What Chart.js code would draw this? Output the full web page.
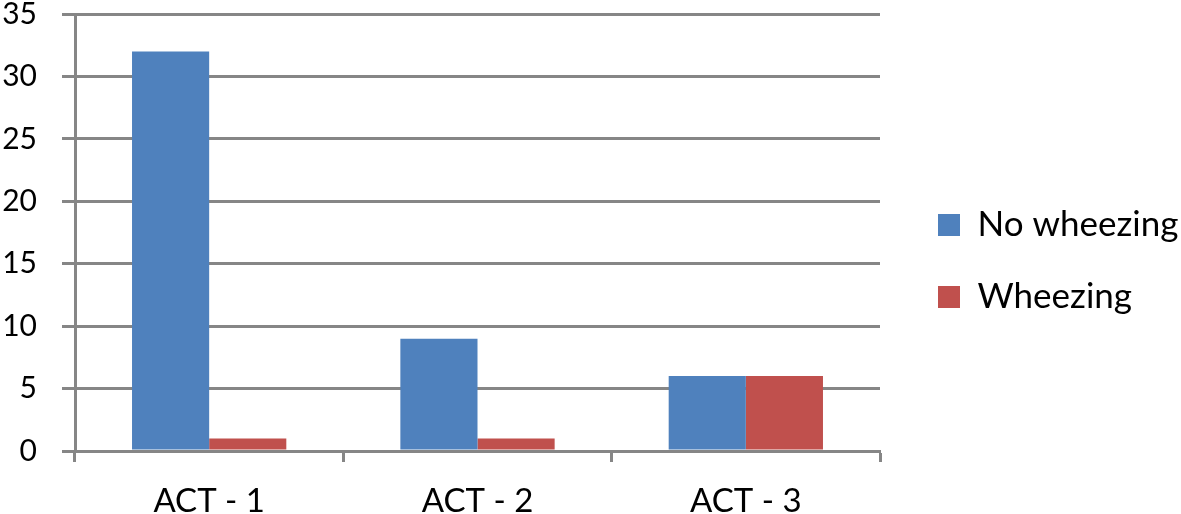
<!DOCTYPE html>
<html>
<head>
<meta charset="utf-8">
<script src="https://cdn.jsdelivr.net/npm/chart.js@4.4.1/dist/chart.umd.min.js"></script>
<style>
  html, body { margin: 0; padding: 0; background: #fff; }
  #wrap { width: 1181px; height: 514px; position: relative; }
</style>
</head>
<body>
<div id="wrap"><canvas id="Chart"></canvas></div>
<script>
const categories = ['ACT - 1', 'ACT - 2', 'ACT - 3'];
const seriesNames = ['No wheezing', 'Wheezing'];
const noWheezing = [32, 9, 6];
const wheezing = [1, 1, 6];
const yTicks = [0, 5, 10, 15, 20, 25, 30, 35];

const gridGray = '#868686';

function crearChart() {
  const ctx = document.getElementById('Chart');
  const chart = new Chart(ctx, {
    type: 'bar',
    data: {
      labels: categories,
      datasets: [{
        label: seriesNames[0],
        data: noWheezing,
        backgroundColor: '#4F81BD',
        borderWidth: 0,
        barPercentage: 1,
        categoryPercentage: 0.575
      }, {
        label: seriesNames[1],
        data: wheezing,
        backgroundColor: '#C0504D',
        borderWidth: 0,
        barPercentage: 1,
        categoryPercentage: 0.575
      }]
    },
    options: {
      responsive: true,
      maintainAspectRatio: false,
      animation: false,
      layout: {
        padding: { top: 14, right: 0, left: 0, bottom: 0 }
      },
      scales: {
        x: {
          grid: {
            display: true,
            drawOnChartArea: false,
            drawTicks: true,
            tickLength: 11,
            tickWidth: 3,
            color: gridGray,
            offset: true
          },
          border: { display: true, color: gridGray, width: 3 },
          ticks: {
            color: '#000',
            font: { family: 'Lato', size: 33 },
            padding: 20
          },
          afterFit: function(axis) { axis.height = 63; }
        },
        y: {
          min: 0,
          max: 35,
          afterBuildTicks: function(axis) {
            axis.ticks = yTicks.map(v => ({ value: v }));
          },
          grid: {
            color: gridGray,
            lineWidth: 3,
            tickLength: 13,
            drawTicks: true
          },
          border: { display: true, color: gridGray, width: 3 },
          ticks: {
            color: '#000',
            font: { family: 'Lato', size: 30 },
            padding: 25
          },
          afterFit: function(axis) {
            axis.width = 75;
            axis.paddingTop = 0;
            axis.paddingBottom = 0;
          }
        }
      },
      plugins: {
        legend: {
          position: 'right',
          align: 'center',
          labels: {
            color: '#000',
            font: { family: 'Lato', size: 35 },
            boxWidth: 22,
            boxHeight: 22,
            padding: 37
          }
        },
        tooltip: { enabled: false }
      }
    }
  });

  // legend takes the space right of x=880, drawn a bit further in
  const lg = chart.legend;
  const origFit = lg.fit.bind(lg);
  lg.fit = function() { origFit(); this.width = 301; };
  const origDraw = lg.draw.bind(lg);
  lg.draw = function() {
    const c = this.ctx;
    c.save();
    c.translate(21, -3);
    origDraw();
    c.restore();
  };
  chart.update();
}

crearChart();
</script>
</body>
</html>
